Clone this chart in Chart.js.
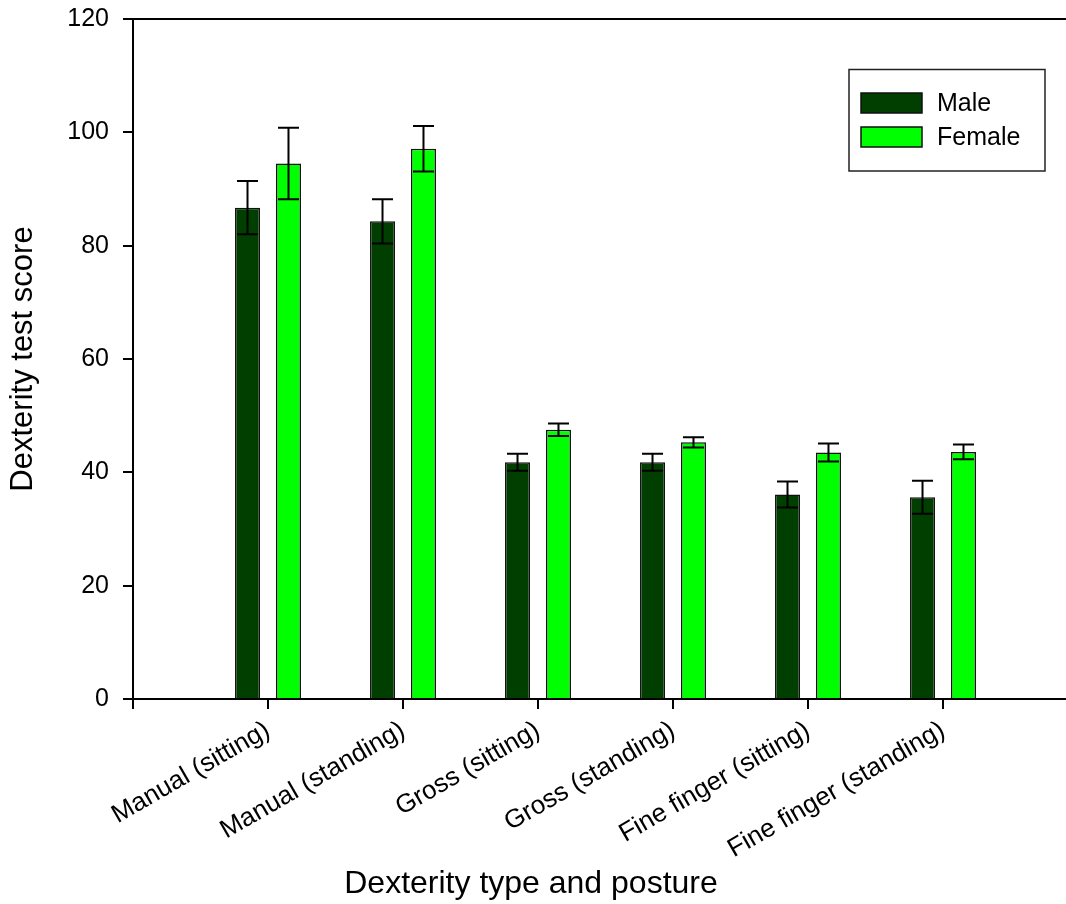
<!DOCTYPE html>
<html>
<head>
<meta charset="utf-8">
<script src="https://cdn.jsdelivr.net/npm/chart.js@4/dist/chart.umd.min.js"></script>
<style>
html,body{margin:0;padding:0;background:#fff;overflow:hidden;width:1066px;height:904px;}
#wrap{position:absolute;left:0;top:0;width:1090px;height:904px;}
</style>
</head>
<body>
<div id="wrap"><canvas id="c" width="1090" height="904"></canvas></div>
<script>
const categories = ["Manual (sitting)", "Manual (standing)", "Gross (sitting)", "Gross (standing)", "Fine finger (sitting)", "Fine finger (standing)"];
const maleMean  = [86.7, 84.3, 41.8, 41.8, 36.1, 35.6];
const maleErr   = [4.7, 3.9, 1.5, 1.5, 2.3, 2.9];
const femaleMean = [94.5, 97.1, 47.5, 45.3, 43.5, 43.6];
const femaleErr  = [6.3, 4.0, 1.1, 0.9, 1.6, 1.3];
const yTicks = [0, 20, 40, 60, 80, 100, 120];
const seriesNames = ["Male", "Female"];
const seriesColors = ["#003f00", "#00ff00"];
const xTitle = "Dexterity type and posture";
const yTitle = "Dexterity test score";

const FONT = "'Liberation Sans', Arial, sans-serif";

const toPoints = arr => arr.map((v, i) => ({x: i + 1, y: v}));

const errorBars = {
  id: 'errorBars',
  afterDatasetsDraw(chart) {
    const ctx = chart.ctx;
    const ys = chart.scales.y;
    const errs = [maleErr, femaleErr];
    ctx.save();
    ctx.strokeStyle = '#000';
    ctx.lineWidth = 2;
    chart.data.datasets.forEach((ds, di) => {
      const meta = chart.getDatasetMeta(di);
      meta.data.forEach((bar, i) => {
        const v = ds.data[i].y, e = errs[di][i];
        const x = bar.x;
        const yt = ys.getPixelForValue(v + e), yb = ys.getPixelForValue(v - e);
        const hw = 10.5;
        ctx.beginPath();
        ctx.moveTo(x, yt); ctx.lineTo(x, yb);
        ctx.moveTo(x - hw, yt); ctx.lineTo(x + hw, yt);
        ctx.moveTo(x - hw, yb); ctx.lineTo(x + hw, yb);
        ctx.stroke();
      });
    });
    ctx.restore();
  }
};

const frameAndLegend = {
  id: 'frameAndLegend',
  afterDraw(chart) {
    const ctx = chart.ctx;
    const a = chart.chartArea;
    ctx.save();
    ctx.strokeStyle = '#000';
    ctx.lineWidth = 2;
    ctx.beginPath();
    ctx.moveTo(a.left - 1, a.top);
    ctx.lineTo(a.right, a.top);
    ctx.stroke();
    // x axis title
    ctx.fillStyle = '#000';
    ctx.font = "32px " + FONT;
    ctx.textAlign = 'center';
    ctx.textBaseline = 'alphabetic';
    ctx.fillText(xTitle, 531, 893);
    // legend box
    ctx.lineWidth = 1.5;
    ctx.strokeStyle = '#222';
    ctx.strokeRect(849, 69.5, 196, 101.5);
    ctx.font = "25px " + FONT;
    ctx.textBaseline = 'middle';
    ctx.textAlign = 'left';
    seriesNames.forEach((name, i) => {
      const y = 93 + i * 34;
      ctx.fillStyle = seriesColors[i];
      ctx.fillRect(861, y, 61, 20);
      ctx.lineWidth = 1.5;
      ctx.strokeStyle = '#111';
      ctx.strokeRect(861, y, 61, 20);
      ctx.fillStyle = '#000';
      ctx.fillText(name, 937, y + 11);
    });
    ctx.restore();
  }
};

new Chart(document.getElementById('c'), {
  type: 'bar',
  data: {
    datasets: [
      { label: seriesNames[0], data: toPoints(maleMean), backgroundColor: seriesColors[0], borderColor: '#111', borderWidth: 1.5 },
      { label: seriesNames[1], data: toPoints(femaleMean), backgroundColor: seriesColors[1], borderColor: '#111', borderWidth: 1.5 }
    ]
  },
  options: {
    responsive: false,
    animation: false,
    events: [],
    layout: { padding: { top: 19, right: 12, left: 0, bottom: 0 } },
    categoryPercentage: 0.607,
    barPercentage: 0.61,
    plugins: { legend: { display: false }, tooltip: { enabled: false } },
    scales: {
      x: {
        type: 'linear',
        min: 0, max: 7,
        offset: false,
        afterBuildTicks(scale) { scale.ticks = [0,1,2,3,4,5,6,7].map(v => ({value: v})); },
        afterFit(scale) { scale.height = 205; scale.paddingLeft = 0; scale.paddingRight = 0; },
        border: { display: true, color: '#000', width: 2 },
        grid: { offset: false, drawOnChartArea: false, drawTicks: true, tickLength: 10, color: '#000', lineWidth: 2 },
        ticks: {
          autoSkip: false,
          minRotation: 30, maxRotation: 30,
          padding: 6,
          color: '#000',
          font: { size: 26, family: FONT },
          callback: v => (v >= 1 && v <= 6) ? categories[v - 1] : ''
        },
        title: { display: false }
      },
      y: {
        min: 0, max: 120,
        afterBuildTicks(scale) { scale.ticks = yTicks.map(v => ({value: v})); },
        afterFit(scale) { scale.width = 133; scale.paddingTop = 0; scale.paddingBottom = 0; },
        border: { display: true, color: '#000', width: 2 },
        grid: { drawOnChartArea: false, drawTicks: true, tickLength: 10, color: '#000', lineWidth: 2 },
        ticks: { padding: 14, color: '#000', font: { size: 25, family: FONT } },
        title: { display: true, text: yTitle, color: '#000', font: { size: 31, family: FONT }, padding: { top: 5, bottom: 0 } }
      }
    }
  },
  plugins: [errorBars, frameAndLegend]
});
</script>
</body>
</html>
